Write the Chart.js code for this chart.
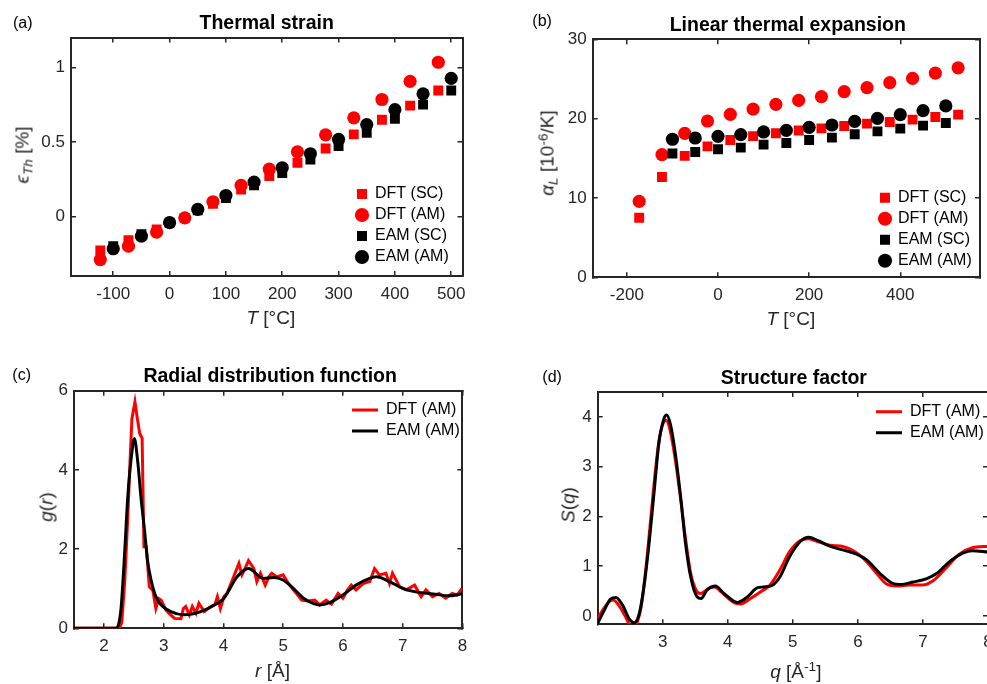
<!DOCTYPE html>
<html><head><meta charset="utf-8">
<script src="https://cdn.jsdelivr.net/npm/chart.js@4/dist/chart.umd.min.js"></script>
<style>
html,body{margin:0;padding:0;background:#fff;}
body{width:987px;height:684px;overflow:hidden;position:relative;}
.pane{position:absolute;}
.pane canvas{display:block;}
.tx{position:absolute;font-family:'Liberation Sans',Arial,Helvetica,sans-serif;white-space:nowrap;line-height:1;transform:translate(-50%,-50%);color:#262626;}
.ttl{font-weight:bold;font-size:19.5px;color:#000;}
.pl{font-size:16px;color:#000;transform:translate(0,-50%);}
.al{font-size:19px;}
.rot{transform:translate(-50%,-50%) rotate(-90deg);}
.sb{position:relative;top:0.32em;font-size:0.72em;}
.sp{position:relative;top:-0.45em;font-size:0.72em;}
i{font-style:italic;}
</style></head>
<body>
<div class="pane" style="left:0px;top:0px"><canvas id="ca" width="480" height="310" style="width:480px;height:310px"></canvas></div>
<div class="pane" style="left:500px;top:0px"><canvas id="cb" width="487" height="310" style="width:487px;height:310px"></canvas></div>
<div class="pane" style="left:0px;top:340px"><canvas id="cc" width="480" height="344" style="width:480px;height:344px"></canvas></div>
<div class="pane" style="left:500px;top:340px"><canvas id="cd" width="520" height="344" style="width:520px;height:344px"></canvas></div>

<div class="tx ttl" style="left:266.7px;top:22.7px">Thermal strain</div>
<div class="tx ttl" style="left:787.8px;top:25px">Linear thermal expansion</div>
<div class="tx ttl" style="left:270.2px;top:375.7px">Radial distribution function</div>
<div class="tx ttl" style="left:793.8px;top:378px">Structure factor</div>

<div class="tx pl" style="left:13px;top:22.7px">(a)</div>
<div class="tx pl" style="left:532.3px;top:21.1px">(b)</div>
<div class="tx pl" style="left:12.3px;top:375.1px">(c)</div>
<div class="tx pl" style="left:542.3px;top:376.7px">(d)</div>

<div class="tx al" style="left:270.8px;top:317.2px"><i>T</i> [°C]</div>
<div class="tx al" style="left:790.8px;top:317.5px"><i>T</i> [°C]</div>
<div class="tx al" style="left:272.5px;top:669.9px"><i>r</i> [Å]</div>
<div class="tx al" style="left:795.8px;top:670.5px"><i>q</i> [Å<span class="sp">-1</span>]</div>

<div class="tx al rot" style="left:22.2px;top:155px"><i>ϵ</i><span class="sb"><i>Th</i></span> [%]</div>
<div class="tx al rot" style="left:547.2px;top:153px"><i>α</i><span class="sb"><i>L</i></span> [10<span class="sp">-6</span>/K]</div>
<div class="tx al rot" style="left:45.7px;top:506.7px"><i>g</i>(<i>r</i>)</div>
<div class="tx al rot" style="left:568.2px;top:505px"><i>S</i>(<i>q</i>)</div>

<script>
// ---------- data ----------
// (a) thermal strain [%]
const aDftT  = [-123, -73, -23, 27, 77, 127, 177, 227, 277, 327, 377, 427, 477];
const aDftSC = [-0.228, -0.16, -0.088, -0.01, 0.085, 0.18, 0.27, 0.36, 0.455, 0.55, 0.648, 0.743, 0.844];
const aDftAM = [-0.29, -0.2, -0.105, -0.01, 0.098, 0.208, 0.317, 0.433, 0.547, 0.661, 0.784, 0.906, 1.034];
const aEamT  = [-100, -50, 0, 50, 100, 150, 200, 250, 300, 350, 400, 450, 500];
const aEamSC = [-0.2, -0.12, -0.042, 0.04, 0.123, 0.208, 0.29, 0.382, 0.471, 0.56, 0.654, 0.75, 0.844];
const aEamAM = [-0.217, -0.132, -0.042, 0.047, 0.14, 0.23, 0.326, 0.42, 0.516, 0.616, 0.716, 0.822, 0.926];
const aXTicks = [-100, 0, 100, 200, 300, 400, 500];
const aYTicks = [0, 0.5, 1];

// (b) linear thermal expansion [1e-6/K]
const bDftT  = [-173, -123, -73, -23, 27, 77, 127, 177, 227, 277, 327, 377, 427, 477, 527];
const bDftSC = [7.5, 12.65, 15.3, 16.5, 17.3, 17.8, 18.15, 18.5, 18.77, 19.07, 19.37, 19.57, 19.87, 20.2, 20.5];
const bDftAM = [9.56, 15.47, 18.15, 19.7, 20.54, 21.2, 21.8, 22.3, 22.77, 23.4, 23.9, 24.53, 25.07, 25.74, 26.4];
const bEamT  = [-100, -50, 0, 50, 100, 150, 200, 250, 300, 350, 400, 450, 500];
const bEamSC = [15.6, 15.8, 16.14, 16.35, 16.73, 16.93, 17.3, 17.6, 18.03, 18.4, 18.74, 19.12, 19.45];
const bEamAM = [17.4, 17.56, 17.77, 17.99, 18.32, 18.53, 18.9, 19.2, 19.66, 20.04, 20.5, 21.0, 21.6];
const bXTicks = [-200, 0, 200, 400];
const bYTicks = [0, 10, 20, 30];

// (c) radial distribution function [r, g(r)]
const cDft = [[1.5,0],[2.26,0],[2.30,0.15],[2.35,1.2],[2.40,2.8],[2.44,4.3],[2.47,5.3],[2.52,5.72],[2.56,5.3],[2.60,4.92],[2.64,4.8],[2.67,2.06],[2.71,2.06],[2.76,1.05],[2.82,0.95],[2.87,0.5],[2.92,0.75],[2.96,0.71],[3.04,0.46],[3.11,0.35],[3.18,0.25],[3.29,0.24],[3.33,0.5],[3.37,0.55],[3.43,0.34],[3.48,0.55],[3.54,0.38],[3.59,0.63],[3.68,0.42],[3.79,0.55],[3.86,0.6],[3.90,0.8],[3.95,0.5],[4.01,0.8],[4.06,0.88],[4.15,1.22],[4.26,1.64],[4.31,1.35],[4.36,1.5],[4.42,1.71],[4.51,1.51],[4.56,1.18],[4.62,1.39],[4.70,1.09],[4.76,1.3],[4.81,1.39],[4.89,1.30],[5.00,1.35],[5.09,1.13],[5.20,0.92],[5.31,0.71],[5.42,0.69],[5.53,0.71],[5.61,0.59],[5.72,0.71],[5.81,0.61],[5.92,0.88],[6.00,0.76],[6.07,0.95],[6.14,1.09],[6.22,0.97],[6.34,1.13],[6.45,1.18],[6.53,1.51],[6.61,1.35],[6.72,1.39],[6.78,1.13],[6.83,1.39],[6.95,1.05],[7.06,0.97],[7.20,1.09],[7.31,0.8],[7.39,0.97],[7.50,0.8],[7.61,0.88],[7.72,0.76],[7.83,0.88],[7.91,0.84],[7.99,1.0]];
const cEam = [[1.5,0],[2.2,0],[2.25,0.12],[2.29,0.55],[2.35,1.97],[2.40,3.32],[2.46,4.33],[2.51,4.79],[2.57,4.16],[2.62,3.32],[2.68,2.48],[2.73,1.72],[2.79,1.22],[2.87,0.80],[2.96,0.59],[3.12,0.42],[3.34,0.34],[3.62,0.42],[3.90,0.63],[4.01,0.76],[4.23,1.30],[4.42,1.51],[4.67,1.26],[4.84,1.28],[5.0,1.22],[5.17,1.01],[5.34,0.76],[5.50,0.63],[5.61,0.59],[5.78,0.65],[6.0,0.84],[6.22,1.09],[6.45,1.26],[6.56,1.30],[6.78,1.18],[7.0,1.01],[7.22,0.92],[7.55,0.86],[7.77,0.82],[8.0,0.87]];
const cXTicks = [2, 3, 4, 5, 6, 7, 8];
const cYTicks = [0, 2, 4, 6];

// (d) structure factor [q, S(q)]
const dDft = [[2.0,-0.05],[2.1,0.16],[2.18,0.29],[2.24,0.32],[2.32,0.22],[2.42,0.0],[2.5,-0.2],[2.56,-0.25],[2.62,-0.08],[2.67,0.2],[2.72,0.7],[2.79,1.6],[2.87,2.7],[2.94,3.5],[3.0,3.85],[3.05,3.93],[3.1,3.8],[3.18,3.25],[3.27,2.4],[3.35,1.55],[3.43,0.85],[3.52,0.5],[3.58,0.45],[3.65,0.5],[3.72,0.56],[3.8,0.58],[3.9,0.48],[4.0,0.36],[4.1,0.26],[4.2,0.24],[4.35,0.35],[4.50,0.48],[4.65,0.62],[4.80,0.92],[4.95,1.29],[5.11,1.51],[5.24,1.55],[5.39,1.49],[5.57,1.42],[5.78,1.39],[5.93,1.31],[6.09,1.15],[6.29,0.85],[6.44,0.64],[6.60,0.60],[6.80,0.62],[7.0,0.62],[7.15,0.70],[7.36,0.97],[7.56,1.24],[7.76,1.37],[8.0,1.40]];
const dEam = [[2.0,-0.15],[2.10,0.11],[2.20,0.34],[2.28,0.37],[2.38,0.22],[2.48,-0.05],[2.56,-0.14],[2.64,0.05],[2.71,0.58],[2.79,1.46],[2.87,2.53],[2.94,3.47],[3.02,3.97],[3.06,4.04],[3.12,3.84],[3.20,3.2],[3.28,2.33],[3.35,1.46],[3.43,0.78],[3.53,0.38],[3.59,0.35],[3.68,0.52],[3.81,0.60],[3.94,0.45],[4.15,0.27],[4.30,0.38],[4.45,0.56],[4.55,0.58],[4.68,0.61],[4.80,0.78],[4.95,1.19],[5.11,1.49],[5.24,1.58],[5.39,1.51],[5.57,1.40],[5.78,1.32],[5.98,1.24],[6.14,1.12],[6.34,0.85],[6.52,0.66],[6.65,0.63],[6.85,0.68],[7.06,0.75],[7.21,0.85],[7.41,1.09],[7.61,1.26],[7.76,1.31],[8.0,1.28]];
const dXTicks = [3, 4, 5, 6, 7, 8];
const dYTicks = [0, 1, 2, 3, 4];

// ---------- styling ----------
const FONT = "'Liberation Sans', Arial, Helvetica, sans-serif";
const AX = '#262626';
const RED = '#ff0000';
const BLK = '#000000';

const legendPlace = {
  id: 'legendPlace',
  beforeDraw(chart, args, opts) {
    const lg = chart.legend;
    if (!lg) return;
    lg.left = opts.x; lg.top = opts.y;
    lg.right = opts.x + 200; lg.bottom = opts.y + 200;
  }
};

function scl(pos, range, ticks, size, labels) {
  const vertical = (pos === 'left' || pos === 'right');
  return {
    type: 'linear', position: pos, min: range[0], max: range[1],
    afterBuildTicks: s => { s.ticks = ticks.map(v => ({value: v})); },
    afterFit: s => { if (vertical) s.width = size; else s.height = size; },
    grid: {display: true, drawOnChartArea: false, drawTicks: true, tickLength: -5, color: AX, lineWidth: 1.5},
    border: {display: true, color: AX, width: 2},
    ticks: {display: labels, padding: vertical ? 11 : 12.9, color: AX,
            font: {family: FONT, size: 17}, maxRotation: 0, minRotation: 0, autoSkip: false,
            callback: v => String(v)}
  };
}

function pts(xs, ys) { return xs.map((x, i) => ({x: x, y: ys[i]})); }
function pairs(p) { return p.map(q => ({x: q[0], y: q[1]})); }

function scatterSet(label, data, color, style, order) {
  return {label, data, backgroundColor: color, borderColor: color, borderWidth: 0,
          pointBackgroundColor: color, pointBorderWidth: 0, pointStyle: style,
          pointRadius: style === 'rect' ? 7 : 6.6, order};
}
function lineSet(label, data, color, smooth, order) {
  return {label, data, showLine: true, borderColor: color, backgroundColor: color, borderWidth: 3,
          pointRadius: 0, pointHoverRadius: 0, pointBorderWidth: 3, pointBorderColor: color,
          tension: smooth ? 0.4 : 0, cubicInterpolationMode: smooth ? 'monotone' : 'default',
          clip: 0, order};
}

function build(id, o) {
  new Chart(document.getElementById(id), {
    type: 'scatter',
    data: {datasets: o.datasets},
    options: {
      responsive: false, maintainAspectRatio: false, animation: false, devicePixelRatio: 1, events: [],
      layout: {padding: {left: 0, top: o.padTop, right: o.padRight, bottom: 0}},
      scales: {
        x: scl('bottom', o.xr, o.xt, o.xh, true),
        y: scl('left', o.yr, o.yt, o.yw, true),
        x2: scl('top', o.xr, o.xt, 0, false),
        y2: scl('right', o.yr, o.yt, 0, false)
      },
      plugins: {
        legend: {display: true, position: 'chartArea', align: 'start',
          labels: Object.assign({usePointStyle: true, padding: 5, color: '#000',
            font: {family: FONT, size: 16},
            sort: (a, b) => a.datasetIndex - b.datasetIndex}, o.legendLabels)},
        tooltip: {enabled: false},
        title: {display: false},
        legendPlace: {x: o.lx, y: o.ly}
      }
    },
    plugins: [legendPlace]
  });
}

build('ca', {
  xr: [-175, 520], yr: [-0.4, 1.2], xt: aXTicks, yt: aYTicks,
  yw: 71, xh: 34, padTop: 37.5, padRight: 17.5, lx: 352, ly: 181,
  legendLabels: {boxWidth: 10, boxHeight: 10},
  datasets: [
    scatterSet('DFT (SC)', pts(aDftT, aDftSC), RED, 'rect', 4),
    scatterSet('DFT (AM)', pts(aDftT, aDftAM), RED, 'circle', 3),
    scatterSet('EAM (SC)', pts(aEamT, aEamSC), BLK, 'rect', 2),
    scatterSet('EAM (AM)', pts(aEamT, aEamAM), BLK, 'circle', 1)
  ]
});

build('cb', {
  xr: [-275, 575], yr: [0, 30], xt: bXTicks, yt: bYTicks,
  yw: 92.7, xh: 32.7, padTop: 39.3, padRight: 5, lx: 375, ly: 184.7,
  legendLabels: {boxWidth: 10, boxHeight: 10},
  datasets: [
    scatterSet('DFT (SC)', pts(bDftT, bDftSC), RED, 'rect', 4),
    scatterSet('DFT (AM)', pts(bDftT, bDftAM), RED, 'circle', 3),
    scatterSet('EAM (SC)', pts(bEamT, bEamSC), BLK, 'rect', 2),
    scatterSet('EAM (AM)', pts(bEamT, bEamAM), BLK, 'circle', 1)
  ]
});

build('cc', {
  xr: [1.5, 8], yr: [0, 6], xt: cXTicks, yt: cYTicks,
  yw: 74, xh: 55.7, padTop: 50.7, padRight: 14.3, lx: 347, ly: 57,
  legendLabels: {pointStyle: 'line', pointStyleWidth: 26},
  datasets: [
    lineSet('DFT (AM)', pairs(cDft), RED, false, 2),
    lineSet('EAM (AM)', pairs(cEam), BLK, true, 1)
  ]
});

build('cd', {
  xr: [2, 8], yr: [-0.17, 4.5], xt: dXTicks, yt: dYTicks,
  yw: 97.7, xh: 59.7, padTop: 52, padRight: 32, lx: 371, ly: 58.7,
  legendLabels: {pointStyle: 'line', pointStyleWidth: 26},
  datasets: [
    lineSet('DFT (AM)', pairs(dDft), RED, true, 2),
    lineSet('EAM (AM)', pairs(dEam), BLK, true, 1)
  ]
});
</script>
</body></html>
